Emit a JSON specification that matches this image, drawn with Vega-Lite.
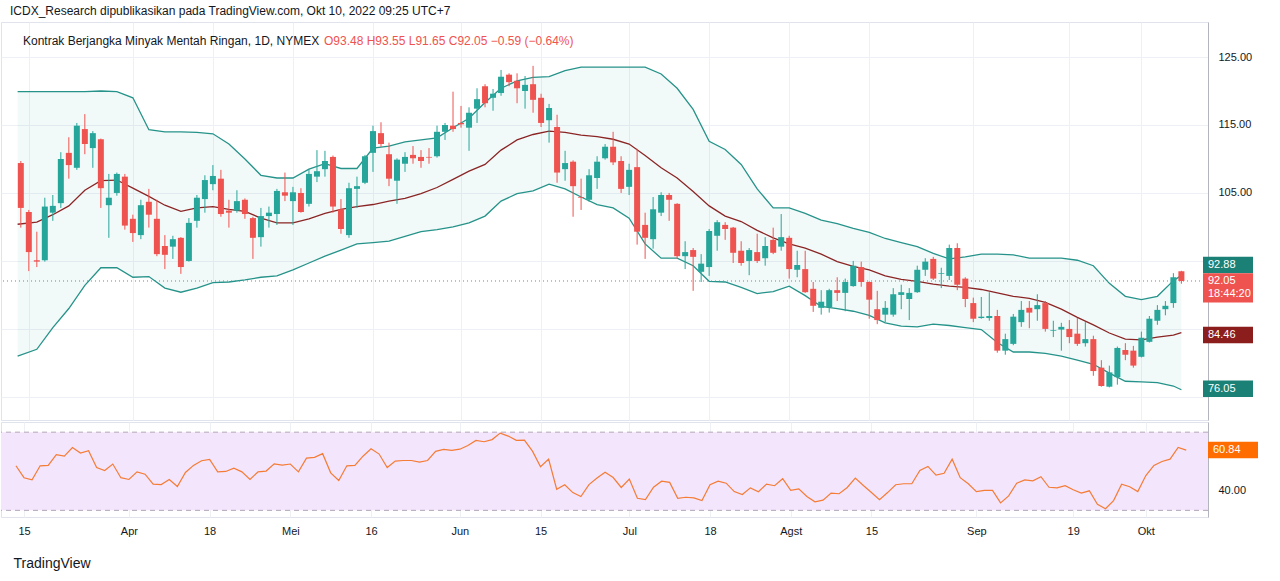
{
  "$schema": "https://vega.github.io/schema/vega-lite/v6.json",
  "padding": {"left": 0, "top": 4, "right": 0, "bottom": 0},
  "background": "white",
  "title": {"text": "ICDX_Research dipublikasikan pada TradingView.com, Okt 10, 2022 09:25 UTC+7", "anchor": "start", "dx": 10, "fontSize": 12, "fontWeight": "normal", "color": "#131722", "font": "Liberation Sans", "offset": 4},
  "config": {
    "font": "Liberation Sans",
    "view": {"stroke": "#e0e3eb"},
    "axis": {"labelFont": "Liberation Sans", "labelFontSize": 11, "labelColor": "#131722", "gridColor": "#edf0f5", "ticks": false, "domain": false}
  },
  "datasets": {
    "candles": [
      {"i":-1,"o":109.4,"h":109.7,"l":99.9,"c":102.8,"r":52.8},
      {"i":0,"o":102.2,"h":102.5,"l":93.5,"c":96.3,"r":46.7},
      {"i":1,"o":95.1,"h":99.3,"l":94.1,"c":94.9,"r":45.6},
      {"i":2,"o":95.1,"h":104.3,"l":94.9,"c":103.0,"r":52.8},
      {"i":3,"o":102.1,"h":104.7,"l":100.9,"c":103.1,"r":53.0},
      {"i":4,"o":103.5,"h":111.0,"l":102.8,"c":110.0,"r":58.5},
      {"i":5,"o":110.9,"h":113.2,"l":107.1,"c":109.1,"r":57.7},
      {"i":6,"o":108.7,"h":115.3,"l":108.4,"c":114.9,"r":62.1},
      {"i":7,"o":114.4,"h":116.6,"l":110.7,"c":112.2,"r":59.3},
      {"i":8,"o":111.6,"h":114.1,"l":108.7,"c":113.8,"r":60.5},
      {"i":9,"o":112.9,"h":113.0,"l":102.8,"c":105.7,"r":51.9},
      {"i":10,"o":103.2,"h":107.8,"l":98.4,"c":104.3,"r":50.4},
      {"i":11,"o":105.0,"h":108.0,"l":104.6,"c":107.8,"r":53.7},
      {"i":12,"o":107.4,"h":107.8,"l":99.6,"c":100.2,"r":46.7},
      {"i":13,"o":101.2,"h":101.8,"l":97.8,"c":99.1,"r":45.8},
      {"i":14,"o":98.8,"h":104.0,"l":98.2,"c":103.2,"r":49.7},
      {"i":15,"o":103.7,"h":105.6,"l":99.9,"c":101.8,"r":48.5},
      {"i":16,"o":101.2,"h":104.0,"l":95.7,"c":96.0,"r":43.4},
      {"i":17,"o":97.2,"h":98.8,"l":93.8,"c":95.9,"r":43.2},
      {"i":18,"o":97.1,"h":98.7,"l":95.3,"c":98.2,"r":45.8},
      {"i":19,"o":98.4,"h":98.5,"l":93.1,"c":94.1,"r":42.2},
      {"i":20,"o":95.0,"h":101.3,"l":94.9,"c":100.6,"r":49.4},
      {"i":21,"o":100.9,"h":104.7,"l":99.9,"c":104.3,"r":53.0},
      {"i":22,"o":104.1,"h":107.6,"l":102.1,"c":106.9,"r":55.4},
      {"i":23,"o":106.3,"h":109.1,"l":105.4,"c":107.5,"r":56.1},
      {"i":24,"o":107.1,"h":108.4,"l":101.5,"c":101.9,"r":49.7},
      {"i":25,"o":102.4,"h":104.0,"l":99.9,"c":102.1,"r":49.9},
      {"i":26,"o":102.4,"h":105.4,"l":102.1,"c":103.8,"r":51.6},
      {"i":27,"o":104.0,"h":104.2,"l":101.2,"c":101.9,"r":49.7},
      {"i":28,"o":101.3,"h":101.5,"l":95.3,"c":98.4,"r":45.8},
      {"i":29,"o":98.5,"h":102.8,"l":97.1,"c":101.6,"r":49.7},
      {"i":30,"o":101.6,"h":103.0,"l":99.9,"c":102.1,"r":50.1},
      {"i":31,"o":101.9,"h":105.6,"l":100.3,"c":105.3,"r":53.8},
      {"i":32,"o":105.1,"h":108.0,"l":103.8,"c":104.6,"r":53.1},
      {"i":33,"o":103.8,"h":105.9,"l":100.3,"c":105.1,"r":53.7},
      {"i":34,"o":105.0,"h":105.7,"l":102.1,"c":102.2,"r":49.7},
      {"i":35,"o":103.4,"h":108.5,"l":103.0,"c":107.8,"r":56.7},
      {"i":36,"o":107.4,"h":111.3,"l":106.6,"c":108.2,"r":57.1},
      {"i":37,"o":108.5,"h":111.2,"l":107.4,"c":109.7,"r":59.0},
      {"i":38,"o":110.3,"h":110.5,"l":102.1,"c":103.0,"r":49.2},
      {"i":39,"o":102.6,"h":104.1,"l":99.0,"c":99.7,"r":45.3},
      {"i":40,"o":98.8,"h":106.5,"l":98.4,"c":105.7,"r":52.8},
      {"i":41,"o":105.6,"h":107.4,"l":102.8,"c":106.0,"r":53.0},
      {"i":42,"o":106.5,"h":110.6,"l":106.3,"c":110.4,"r":57.7},
      {"i":43,"o":110.9,"h":114.9,"l":108.1,"c":114.1,"r":61.5},
      {"i":44,"o":113.8,"h":115.4,"l":111.8,"c":112.2,"r":58.8},
      {"i":45,"o":110.7,"h":112.4,"l":106.0,"c":107.1,"r":51.9},
      {"i":46,"o":106.8,"h":110.1,"l":103.4,"c":109.9,"r":55.2},
      {"i":47,"o":109.3,"h":111.0,"l":108.1,"c":110.3,"r":55.5},
      {"i":48,"o":110.6,"h":111.9,"l":109.3,"c":110.1,"r":55.5},
      {"i":49,"o":110.3,"h":111.3,"l":108.7,"c":109.7,"r":54.7},
      {"i":50,"o":110.3,"h":111.6,"l":109.3,"c":110.2,"r":55.5},
      {"i":51,"o":110.4,"h":114.9,"l":110.2,"c":114.0,"r":60.2},
      {"i":52,"o":114.0,"h":115.3,"l":112.8,"c":115.0,"r":61.2},
      {"i":53,"o":114.9,"h":119.9,"l":114.0,"c":114.4,"r":60.7},
      {"i":54,"o":115.3,"h":117.8,"l":114.6,"c":115.1,"r":61.3},
      {"i":55,"o":114.6,"h":117.6,"l":111.2,"c":116.8,"r":63.2},
      {"i":56,"o":117.4,"h":120.4,"l":115.3,"c":118.8,"r":65.8},
      {"i":57,"o":120.7,"h":121.0,"l":117.6,"c":118.2,"r":65.1},
      {"i":58,"o":119.0,"h":120.3,"l":117.1,"c":119.6,"r":66.2},
      {"i":59,"o":119.7,"h":123.1,"l":119.3,"c":122.1,"r":69.5},
      {"i":60,"o":122.4,"h":122.6,"l":120.7,"c":121.3,"r":68.0},
      {"i":61,"o":121.5,"h":122.6,"l":118.2,"c":120.4,"r":65.8},
      {"i":62,"o":120.0,"h":122.2,"l":117.4,"c":120.9,"r":65.9},
      {"i":63,"o":121.0,"h":123.7,"l":116.8,"c":118.7,"r":60.3},
      {"i":64,"o":119.0,"h":119.6,"l":114.7,"c":115.3,"r":52.3},
      {"i":65,"o":115.7,"h":118.1,"l":112.4,"c":117.5,"r":56.2},
      {"i":66,"o":114.7,"h":116.5,"l":106.5,"c":108.0,"r":40.8},
      {"i":67,"o":108.5,"h":111.2,"l":106.8,"c":109.4,"r":43.1},
      {"i":68,"o":109.6,"h":109.8,"l":101.5,"c":106.0,"r":39.1},
      {"i":69,"o":104.4,"h":107.1,"l":102.5,"c":104.3,"r":37.1},
      {"i":70,"o":104.0,"h":108.5,"l":103.7,"c":107.6,"r":43.2},
      {"i":71,"o":107.2,"h":110.4,"l":105.6,"c":109.6,"r":46.5},
      {"i":72,"o":110.1,"h":112.2,"l":109.9,"c":111.8,"r":49.5},
      {"i":73,"o":111.8,"h":114.0,"l":109.1,"c":109.5,"r":46.8},
      {"i":74,"o":109.7,"h":110.4,"l":105.0,"c":105.6,"r":41.7},
      {"i":75,"o":105.9,"h":109.3,"l":104.7,"c":108.4,"r":46.0},
      {"i":76,"o":108.8,"h":111.5,"l":97.4,"c":99.3,"r":36.2},
      {"i":77,"o":100.3,"h":102.1,"l":95.3,"c":98.4,"r":35.5},
      {"i":78,"o":98.2,"h":104.4,"l":96.8,"c":102.6,"r":41.8},
      {"i":79,"o":102.1,"h":105.1,"l":101.6,"c":104.7,"r":44.9},
      {"i":80,"o":104.7,"h":105.0,"l":100.9,"c":104.0,"r":44.3},
      {"i":81,"o":103.4,"h":103.5,"l":95.3,"c":95.7,"r":36.2},
      {"i":82,"o":95.7,"h":97.9,"l":93.8,"c":96.3,"r":36.7},
      {"i":83,"o":96.6,"h":96.9,"l":90.6,"c":95.6,"r":36.4},
      {"i":84,"o":93.4,"h":96.0,"l":91.9,"c":94.6,"r":35.0},
      {"i":85,"o":94.1,"h":99.7,"l":92.8,"c":99.4,"r":43.1},
      {"i":86,"o":98.7,"h":101.0,"l":96.5,"c":100.7,"r":44.9},
      {"i":87,"o":100.3,"h":100.7,"l":98.1,"c":99.7,"r":43.9},
      {"i":88,"o":99.9,"h":100.0,"l":94.7,"c":96.2,"r":39.6},
      {"i":89,"o":96.5,"h":97.9,"l":94.3,"c":94.7,"r":38.1},
      {"i":90,"o":95.0,"h":96.9,"l":92.9,"c":96.6,"r":41.5},
      {"i":91,"o":96.3,"h":99.0,"l":94.7,"c":95.0,"r":39.5},
      {"i":92,"o":95.4,"h":98.5,"l":94.3,"c":97.2,"r":43.4},
      {"i":93,"o":98.1,"h":99.9,"l":96.0,"c":96.2,"r":42.6},
      {"i":94,"o":97.1,"h":101.9,"l":96.5,"c":98.5,"r":46.2},
      {"i":95,"o":98.4,"h":98.7,"l":92.4,"c":93.8,"r":40.3},
      {"i":96,"o":93.7,"h":96.5,"l":92.6,"c":94.4,"r":41.0},
      {"i":97,"o":93.8,"h":96.5,"l":90.3,"c":90.4,"r":37.1},
      {"i":98,"o":90.9,"h":91.9,"l":87.5,"c":88.4,"r":34.4},
      {"i":99,"o":88.1,"h":90.7,"l":87.1,"c":89.0,"r":35.2},
      {"i":100,"o":88.2,"h":90.9,"l":87.4,"c":90.7,"r":38.8},
      {"i":101,"o":90.7,"h":92.6,"l":89.1,"c":90.3,"r":38.5},
      {"i":102,"o":90.3,"h":92.4,"l":87.6,"c":91.9,"r":41.7},
      {"i":103,"o":91.3,"h":95.0,"l":91.2,"c":94.3,"r":46.5},
      {"i":104,"o":94.1,"h":94.9,"l":91.2,"c":91.9,"r":42.7},
      {"i":105,"o":91.9,"h":92.0,"l":86.5,"c":89.3,"r":39.1},
      {"i":106,"o":87.9,"h":90.6,"l":85.7,"c":86.3,"r":35.5},
      {"i":107,"o":87.1,"h":89.1,"l":86.0,"c":88.1,"r":39.1},
      {"i":108,"o":87.1,"h":91.0,"l":86.8,"c":90.1,"r":43.1},
      {"i":109,"o":90.0,"h":91.5,"l":87.9,"c":90.4,"r":43.6},
      {"i":110,"o":89.4,"h":91.0,"l":86.3,"c":90.3,"r":43.6},
      {"i":111,"o":90.4,"h":94.3,"l":90.3,"c":93.7,"r":50.4},
      {"i":112,"o":93.7,"h":95.4,"l":92.8,"c":94.9,"r":52.5},
      {"i":113,"o":95.3,"h":95.6,"l":92.2,"c":92.4,"r":48.0},
      {"i":114,"o":93.1,"h":94.0,"l":91.0,"c":93.2,"r":49.0},
      {"i":115,"o":92.8,"h":97.4,"l":92.2,"c":96.9,"r":56.2},
      {"i":116,"o":96.9,"h":97.6,"l":90.7,"c":91.5,"r":46.7},
      {"i":117,"o":92.4,"h":92.6,"l":88.2,"c":89.4,"r":43.6},
      {"i":118,"o":88.8,"h":89.6,"l":86.0,"c":86.5,"r":39.6},
      {"i":119,"o":86.6,"h":89.7,"l":86.5,"c":86.8,"r":40.2},
      {"i":120,"o":86.6,"h":90.4,"l":86.2,"c":86.9,"r":40.2},
      {"i":121,"o":86.9,"h":87.8,"l":81.5,"c":81.8,"r":33.8},
      {"i":122,"o":81.8,"h":84.3,"l":81.2,"c":83.5,"r":37.4},
      {"i":123,"o":82.8,"h":87.2,"l":82.6,"c":86.8,"r":43.9},
      {"i":124,"o":86.0,"h":89.1,"l":85.3,"c":87.8,"r":45.6},
      {"i":125,"o":88.1,"h":89.1,"l":85.1,"c":87.4,"r":45.1},
      {"i":126,"o":87.9,"h":90.1,"l":86.2,"c":88.5,"r":47.2},
      {"i":127,"o":88.8,"h":89.1,"l":84.6,"c":85.0,"r":41.8},
      {"i":128,"o":84.7,"h":86.2,"l":83.8,"c":84.8,"r":41.5},
      {"i":129,"o":84.9,"h":85.9,"l":81.8,"c":85.3,"r":42.6},
      {"i":130,"o":85.0,"h":86.3,"l":82.9,"c":83.8,"r":40.5},
      {"i":131,"o":84.3,"h":86.6,"l":82.5,"c":82.8,"r":38.8},
      {"i":132,"o":82.9,"h":86.0,"l":82.4,"c":83.5,"r":40.0},
      {"i":133,"o":83.5,"h":84.0,"l":78.1,"c":78.8,"r":33.1},
      {"i":134,"o":79.3,"h":80.4,"l":76.5,"c":76.6,"r":30.8},
      {"i":135,"o":76.5,"h":79.6,"l":76.4,"c":78.6,"r":35.0},
      {"i":136,"o":77.9,"h":82.4,"l":76.8,"c":82.2,"r":43.4},
      {"i":137,"o":81.9,"h":82.9,"l":80.4,"c":81.2,"r":42.1},
      {"i":138,"o":81.8,"h":82.5,"l":79.3,"c":79.6,"r":39.6},
      {"i":139,"o":80.9,"h":84.6,"l":80.8,"c":83.7,"r":47.8},
      {"i":140,"o":83.1,"h":86.9,"l":83.0,"c":86.5,"r":53.0},
      {"i":141,"o":86.2,"h":88.5,"l":85.6,"c":87.8,"r":55.0},
      {"i":142,"o":87.9,"h":89.1,"l":87.0,"c":88.4,"r":56.2},
      {"i":143,"o":88.8,"h":93.2,"l":88.1,"c":92.6,"r":62.2},
      {"i":144,"o":93.48,"h":93.55,"l":91.65,"c":92.05,"r":60.84}
    ],
    "bb": [
      {"i":-1.4,"up":119.9,"mid":100.4,"lo":81.0},
      {"i":1,"up":119.9,"mid":100.7,"lo":82.0},
      {"i":3,"up":119.9,"mid":101.8,"lo":85.2},
      {"i":5,"up":119.9,"mid":103.1,"lo":88.0},
      {"i":7,"up":119.9,"mid":105.4,"lo":91.4},
      {"i":9,"up":120.0,"mid":106.8,"lo":94.0},
      {"i":11,"up":119.9,"mid":106.9,"lo":94.0},
      {"i":13,"up":119.0,"mid":105.7,"lo":92.6},
      {"i":15,"up":114.3,"mid":104.5,"lo":92.7},
      {"i":17,"up":114.0,"mid":103.2,"lo":91.0},
      {"i":19,"up":114.0,"mid":102.3,"lo":90.4},
      {"i":21,"up":113.9,"mid":102.8,"lo":91.0},
      {"i":23,"up":113.7,"mid":103.0,"lo":91.8},
      {"i":25,"up":112.2,"mid":102.6,"lo":91.9},
      {"i":27,"up":110.0,"mid":102.3,"lo":92.2},
      {"i":29,"up":107.6,"mid":101.3,"lo":92.6},
      {"i":31,"up":107.2,"mid":100.6,"lo":92.8},
      {"i":33,"up":107.2,"mid":100.6,"lo":93.7},
      {"i":35,"up":108.5,"mid":101.2,"lo":94.7},
      {"i":37,"up":109.3,"mid":102.0,"lo":95.7},
      {"i":39,"up":108.6,"mid":102.6,"lo":96.6},
      {"i":41,"up":108.6,"mid":103.0,"lo":97.5},
      {"i":43,"up":111.6,"mid":103.3,"lo":97.7},
      {"i":45,"up":111.9,"mid":103.8,"lo":97.9},
      {"i":47,"up":112.5,"mid":104.2,"lo":98.6},
      {"i":49,"up":112.8,"mid":104.9,"lo":99.3},
      {"i":51,"up":113.1,"mid":105.8,"lo":99.6},
      {"i":53,"up":114.6,"mid":107.0,"lo":100.0},
      {"i":55,"up":116.0,"mid":108.2,"lo":100.6},
      {"i":57,"up":118.3,"mid":109.2,"lo":101.6},
      {"i":59,"up":120.4,"mid":111.3,"lo":103.8},
      {"i":61,"up":121.5,"mid":112.8,"lo":104.9},
      {"i":63,"up":122.0,"mid":113.6,"lo":105.3},
      {"i":65,"up":122.1,"mid":114.1,"lo":106.3},
      {"i":67,"up":123.0,"mid":113.9,"lo":105.6},
      {"i":69,"up":123.5,"mid":113.5,"lo":104.4},
      {"i":71,"up":123.5,"mid":113.3,"lo":103.3},
      {"i":73,"up":123.5,"mid":112.9,"lo":102.8},
      {"i":75,"up":123.5,"mid":112.2,"lo":101.3},
      {"i":77,"up":123.5,"mid":110.5,"lo":97.5},
      {"i":79,"up":122.5,"mid":108.7,"lo":95.4},
      {"i":81,"up":120.4,"mid":107.2,"lo":95.4},
      {"i":83,"up":117.3,"mid":105.2,"lo":94.3},
      {"i":85,"up":112.6,"mid":103.1,"lo":92.0},
      {"i":87,"up":111.4,"mid":101.6,"lo":91.9},
      {"i":89,"up":109.2,"mid":100.8,"lo":91.1},
      {"i":91,"up":105.6,"mid":99.5,"lo":90.2},
      {"i":93,"up":102.8,"mid":98.4,"lo":90.5},
      {"i":95,"up":102.8,"mid":97.5,"lo":91.3},
      {"i":97,"up":102.0,"mid":96.9,"lo":89.9},
      {"i":99,"up":101.0,"mid":96.0,"lo":88.3},
      {"i":101,"up":100.5,"mid":94.9,"lo":88.0},
      {"i":103,"up":99.8,"mid":94.2,"lo":87.6},
      {"i":105,"up":99.2,"mid":93.7,"lo":87.0},
      {"i":107,"up":98.3,"mid":92.8,"lo":85.9},
      {"i":109,"up":97.7,"mid":92.3,"lo":85.4},
      {"i":111,"up":97.1,"mid":92.0,"lo":85.3},
      {"i":113,"up":96.1,"mid":91.6,"lo":85.7},
      {"i":115,"up":95.3,"mid":91.3,"lo":85.5},
      {"i":117,"up":95.6,"mid":91.1,"lo":85.2},
      {"i":119,"up":96.0,"mid":90.8,"lo":84.9},
      {"i":121,"up":96.0,"mid":90.3,"lo":83.0},
      {"i":123,"up":95.9,"mid":89.8,"lo":81.6},
      {"i":125,"up":95.4,"mid":89.5,"lo":81.6},
      {"i":127,"up":95.4,"mid":88.9,"lo":81.4},
      {"i":129,"up":95.4,"mid":87.9,"lo":81.0},
      {"i":131,"up":95.1,"mid":86.7,"lo":80.4},
      {"i":133,"up":94.3,"mid":85.6,"lo":79.8},
      {"i":135,"up":91.7,"mid":84.4,"lo":78.5},
      {"i":137,"up":89.8,"mid":83.5,"lo":77.3},
      {"i":139,"up":89.3,"mid":83.4,"lo":77.2},
      {"i":141,"up":89.8,"mid":83.8,"lo":77.1},
      {"i":143,"up":92.1,"mid":84.1,"lo":76.6},
      {"i":144,"up":92.88,"mid":84.46,"lo":76.05}
    ],
    "tagbox": [
      {"i":0,"k":"band","ya":95.6,"yb":93.2},
      {"i":0,"k":"last","ya":93.2,"yb":88.9},
      {"i":0,"k":"mid","ya":85.3,"yb":82.9},
      {"i":0,"k":"band","ya":77.4,"yb":75.0}
    ],
    "tagtext": [
      {"i":0,"t":"92.88","ty":94.4},
      {"i":0,"t":"92.05","ty":92.05},
      {"i":0,"t":"18:44:20","ty":90.1},
      {"i":0,"t":"84.46","ty":84.1},
      {"i":0,"t":"76.05","ty":76.2}
    ],
    "one": [{"i": 0, "r": 60.84}]
  },
  "spacing": 0,
  "vconcat": [
    {
      "width": 1207,
      "height": 398,
      "encoding": {
        "x": {"field": "i", "type": "quantitative", "scale": {"domain": [-2.85, 146.7], "nice": false, "zero": false},
          "axis": {"title": null, "labels": false, "grid": true, "values": [0,13,23,33,43,54,64,75,85,95,105,118,130,139]}}
      },
      "layer": [
        {
          "data": {"name": "bb"},
          "mark": {"type": "area", "color": "#26a69a", "opacity": 0.06},
          "encoding": {
            "y": {"field": "lo", "type": "quantitative", "scale": {"domain": [71.6, 130.15], "nice": false, "zero": false},
              "axis": {"orient": "right", "title": null, "values": [75,80,85,90,95,100,105,110,115,120,125], "format": ".2f", "labelExpr": "datum.value == 95 || datum.value == 85 || datum.value == 75 ? '' : datum.label", "labelPadding": 10, "gridColor": "#edf0f5", "domain": true, "domainColor": "#b2b5be"}},
            "y2": {"field": "up"}
          }
        },
        {"data": {"name": "bb"}, "mark": {"type": "line", "color": "#26938a", "strokeWidth": 1.3}, "encoding": {"y": {"field": "up", "type": "quantitative"}}},
        {"data": {"name": "bb"}, "mark": {"type": "line", "color": "#26938a", "strokeWidth": 1.3}, "encoding": {"y": {"field": "lo", "type": "quantitative"}}},
        {"data": {"name": "bb"}, "mark": {"type": "line", "color": "#8b2525", "strokeWidth": 1.3}, "encoding": {"y": {"field": "mid", "type": "quantitative"}}},
        {"data": {"name": "one"}, "mark": {"type": "rule", "color": "#ef5350", "strokeDash": [1, 3], "strokeWidth": 1}, "encoding": {"x": null, "y": {"datum": 92.05}}},
        {
          "data": {"name": "candles"},
          "mark": {"type": "rule", "strokeWidth": 1},
          "encoding": {
            "y": {"field": "l", "type": "quantitative"},
            "y2": {"field": "h"},
            "color": {"condition": {"test": "datum.c >= datum.o", "value": "#26a69a"}, "value": "#ef5350"}
          }
        },
        {
          "data": {"name": "candles"},
          "mark": {"type": "bar", "size": 6},
          "encoding": {
            "y": {"field": "o", "type": "quantitative"},
            "y2": {"field": "c"},
            "color": {"condition": {"test": "datum.c >= datum.o", "value": "#26a69a"}, "value": "#ef5350"}
          }
        },
        {
          "data": {"name": "tagbox"},
          "mark": {"type": "rect", "x2Offset": 50, "clip": false},
          "encoding": {
            "x": {"datum": 146.7},
            "x2": {"datum": 146.7},
            "y": {"field": "ya", "type": "quantitative"},
            "y2": {"field": "yb"},
            "color": {"condition": [{"test": "datum.k == 'last'", "value": "#ef5350"}, {"test": "datum.k == 'mid'", "value": "#8b1d1d"}], "value": "#1b8177"}
          }
        },
        {
          "data": {"name": "tagtext"},
          "mark": {"type": "text", "align": "left", "dx": 5, "color": "white", "fontSize": 11, "clip": false},
          "encoding": {
            "x": {"datum": 146.7},
            "y": {"field": "ty", "type": "quantitative"},
            "text": {"field": "t"}
          }
        },
        {
          "data": {"name": "one"},
          "mark": {"type": "text", "align": "left", "dx": 17, "color": "#131722", "fontSize": 12},
          "encoding": {"x": {"datum": -2.85}, "y": {"datum": 127.35}, "text": {"value": "Kontrak Berjangka Minyak Mentah Ringan, 1D, NYMEX"}}
        },
        {
          "data": {"name": "one"},
          "mark": {"type": "text", "align": "left", "dx": 318, "color": "#ef5350", "fontSize": 12},
          "encoding": {"x": {"datum": -2.85}, "y": {"datum": 127.35}, "text": {"value": "O93.48 H93.55 L91.65 C92.05 −0.59 (−0.64%)"}}
        }
      ]
    },
    {
      "width": 1207,
      "height": 95,
      "data": {"name": "candles"},
      "encoding": {
        "x": {"field": "i", "type": "quantitative", "scale": {"domain": [-2.85, 146.7], "nice": false, "zero": false},
          "axis": {"title": "TradingView", "titleAnchor": "start", "titleX": 12, "titleAlign": "left", "titleFontSize": 14, "titleFontWeight": "normal", "titleColor": "#131722", "titlePadding": 20,
            "grid": true, "labelPadding": 8, "values": [0,13,23,33,43,54,64,75,85,95,105,118,130,139],
            "labelExpr": "['15','Apr','18','Mei','16','Jun','15','Jul','18','Agst','15','Sep','19','Okt'][indexof([0,13,23,33,43,54,64,75,85,95,105,118,130,139], datum.value)]"}}
      },
      "layer": [
        {"data": {"name": "one"}, "mark": {"type": "rect", "color": "#f3e5fc"}, "encoding": {"x": null, "y": {"datum": 70}, "y2": {"datum": 30}}},
        {"data": {"name": "one"}, "mark": {"type": "rule", "color": "#b2a6b8", "strokeDash": [5, 4]}, "encoding": {"x": null, "y": {"datum": 70}}},
        {"data": {"name": "one"}, "mark": {"type": "rule", "color": "#b2a6b8", "strokeDash": [5, 4]}, "encoding": {"x": null, "y": {"datum": 30}}},
        {
          "mark": {"type": "line", "color": "#f57c35", "strokeWidth": 1.2},
          "encoding": {
            "y": {"field": "r", "type": "quantitative", "scale": {"domain": [26.6, 75.2], "nice": false, "zero": false},
              "axis": {"orient": "right", "title": null, "values": [40, 60], "labelExpr": "datum.value == 40 ? '40.00' : ''", "labelPadding": 10, "domain": true, "domainColor": "#b2b5be"}}
          }
        },
        {
          "data": {"name": "one"},
          "mark": {"type": "rect", "color": "#ff6d00", "x2Offset": 50, "clip": false},
          "encoding": {"x": {"datum": 146.7}, "x2": {"datum": 146.7}, "y": {"datum": 65.1}, "y2": {"datum": 56.6}}
        },
        {
          "data": {"name": "one"},
          "mark": {"type": "text", "align": "left", "dx": 5, "color": "white", "fontSize": 11, "clip": false},
          "encoding": {"x": {"datum": 146.7}, "y": {"datum": 60.84}, "text": {"value": "60.84"}}
        }
      ]
    }
  ]
}
